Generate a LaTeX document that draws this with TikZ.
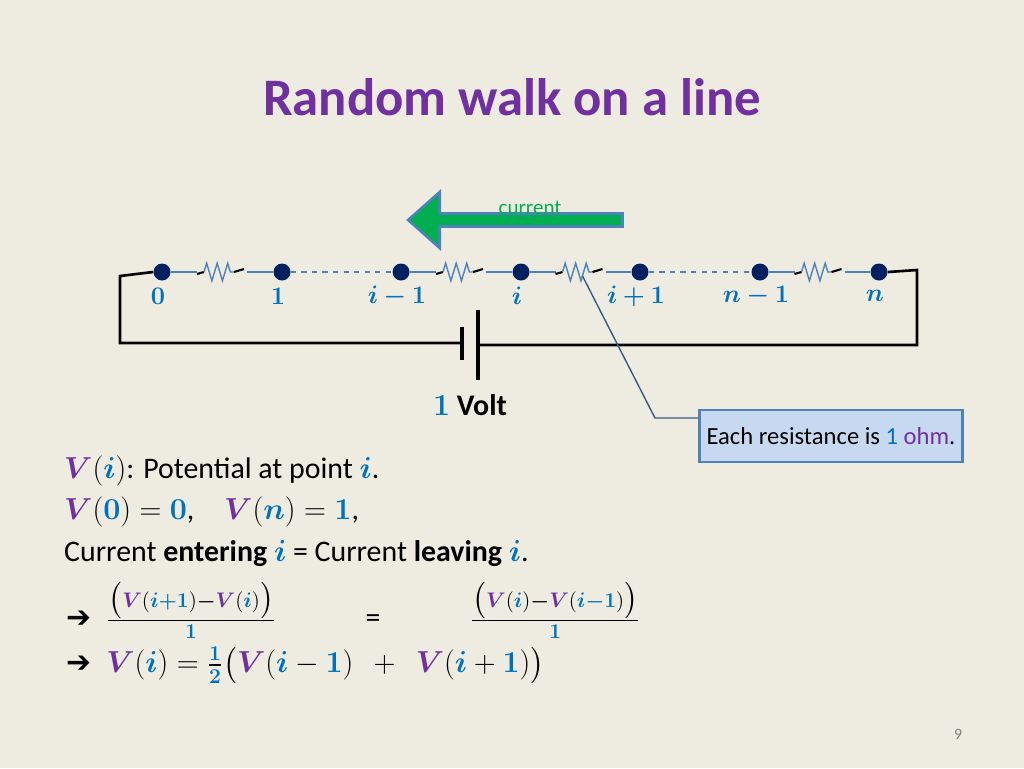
\documentclass[tikz,border=0pt]{standalone}
\usepackage{amsmath,bm}
\usepackage{fontspec}
\setmainfont{Carlito}
\usetikzlibrary{decorations.pathmorphing,arrows.meta,calc}
\definecolor{bgc}{RGB}{238,236,225}
\definecolor{ttl}{RGB}{112,48,160}
\definecolor{blu}{RGB}{0,112,192}
\definecolor{dotc}{RGB}{0,32,96}
\definecolor{wire}{RGB}{79,129,189}
\definecolor{grn}{RGB}{0,176,80}
\definecolor{notef}{RGB}{198,217,241}
\newcommand{\bV}{\textcolor{ttl}{\bm{V}}}
\newcommand{\bb}[1]{\textcolor{blu}{\bm{#1}}}
\tikzset{
  pt/.style={circle, fill=dotc, inner sep=0pt, minimum size=0.34cm},
  lbl/.style={text=blu, font=\Large},
  res/.style={wire, thick, decorate, decoration={zigzag, amplitude=5, segment length=6}},
  txt/.style={anchor=west, font=\fontsize{17}{20}\selectfont}
}
\begin{document}
\begin{tikzpicture}[x=0.02cm, y=-0.02cm]
  \fill[bgc] (0,0) rectangle (1024,768);
  \useasboundingbox (0,0) rectangle (1024,768);
  \node[text=ttl, font=\fontsize{30}{36}\selectfont\bfseries] (title) at (512,97) {Random walk on a line};
  % nodes
  \foreach \x/\n/\t in {162/p0/0, 282/p1/1, 401/pa/i-1, 521/pi/i, 640/pb/i+1, 760/pc/n-1, 879/pn/n}
  {\node[pt] (\n) at (\x,272) {};
   \node[lbl] at (\x-4,296) {$\bm{\t}$};}
  % resistors
  \foreach \a/\b/\m in {p0/p1/ra, pa/pi/rb, pi/pb/rc, pc/pn/rd}
  {\coordinate (\m) at ($(\a)!0.5!(\b)$);
   \draw[wire, thick] (\a) -- ($(\m)+(-25,0)$);
   \draw[wire, thick] ($(\m)+(25,0)$) -- (\b);
   \draw[very thick] ($(\m)+(-25,2)$) -- ($(\m)+(-18,0)$);
   \draw[res] ($(\m)+(-18,0)$) -- ($(\m)+(12,0)$);
   \draw[very thick] ($(\m)+(12,0)$) -- ($(\m)+(22,-3)$);}
  \draw[wire, thick, dashed] (p1) -- (pa);
  \draw[wire, thick, dashed] (pb) -- (pc);
  % circuit
  \coordinate (bl) at (462,343);
  \coordinate (br) at (478,345);
  \draw[line width=1.5pt] (p0.west) -- (120,276) -- (120,343) -- (bl);
  \draw[line width=1.5pt] (pn.east) -- (917,270) -- (917,345) -- (br);
  \draw[line width=2pt] (462,327) -- (462,360);
  \draw[line width=2pt] (478,310) -- (478,380);
  \node[font=\fontsize{17}{20}\selectfont\bfseries] (volt) at (470,405) {\textcolor{blu}{$\bm{1}$} Volt};
  % current arrow
  \draw[-{Triangle[length=20, width=34]}, line width=9pt, draw=wire] (624,220) -- (406,220);
  \draw[-{Triangle[length=16, width=27]}, line width=6pt, draw=grn] (621,220) -- (410,220);
  \node[text=grn, font=\large] (cur) at (530,208) {current};
  % note
  \node[draw=wire, fill=notef, line width=1.2pt, minimum width=5.26cm, minimum height=1.04cm,
    font=\fontsize{14}{17}\selectfont] (note) at (831,436)
    {Each resistance is \textcolor{blu}{1} \textcolor{ttl}{ohm}.};
  \coordinate (bend) at (655,418);
  \draw[wire!70!black, thick] ($(rc)+(2,4)$) -- (bend) -- (note.west |- bend);
  % text
  \node[txt] (t1) at (58,471) {$\bV(\bb{i})$: Potential at point $\bb{i}$.};
  \node[txt] (t2) at (58,512) {$\bV(\bb{0}) = \bb{0}$,\quad $\bV(\bb{n}) = \bb{1}$,};
  \node[txt] (t3) at (58,553) {Current \textbf{entering} $\bb{i}$ = Current \textbf{leaving} $\bb{i}$.};
  \node[txt] (t4) at (60,610) {\textbf{\fontspec{DejaVu Sans}➔}\;
    $\frac{\bigl(\bV(\bb{i}\bb{+}\bb{1})\bm{-}\bV(\bb{i})\bigr)}{\bb{1}}$\qquad\quad =\qquad\quad
    $\frac{\bigl(\bV(\bb{i})\bm{-}\bV(\bb{i}\bb{-}\bb{1})\bigr)}{\bb{1}}$};
  \node[txt] (t5) at (60,665) {\textbf{\fontspec{DejaVu Sans}➔}\;
    $\bV(\bb{i}) = \frac{\bb{1}}{\bb{2}}\bigl(\bV(\bb{i} - \bb{1})\ \ +\ \ \bV(\bb{i} + \bb{1})\bigr)$};
  \node[text=gray, font=\small] (pg) at (958,734) {9};
\end{tikzpicture}
\end{document}
